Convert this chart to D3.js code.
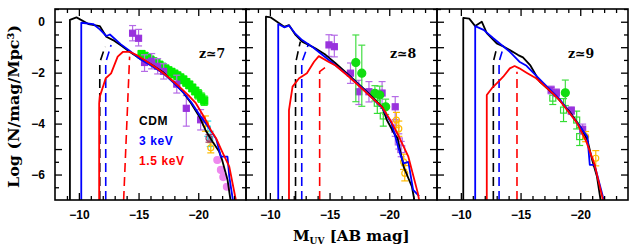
<!DOCTYPE html>
<html>
<head>
<meta charset="utf-8">
<script src="https://cdn.jsdelivr.net/npm/d3@7"></script>
<style>
  body { margin: 0; background: #fff; }
</style>
</head>
<body>
<div id="chart"></div>
<script>
// model curves: [M_UV, log phi]
var cdm7 = [[-9.25,-7],[-9.25,0.07],[-9.8,0.17],[-10.8,-0.09],[-11.75,-0.17],[-12.3,-0.59],[-12.86,-0.72],[-13.6,-0.95],[-14.25,-1.18],[-15.1,-1.44],[-15.9,-1.63],[-17.0,-1.96],[-17.9,-2.35],[-18.7,-2.75],[-19.4,-3.2],[-20.1,-3.73],[-20.6,-4.25],[-21.2,-4.71],[-21.75,-5.1],[-22.0,-5.43],[-22.45,-6.2],[-22.7,-7]];
var kev3_7 = [[-10.2,-7],[-10.2,-0.04],[-11.2,-0.09],[-11.75,-0.3],[-12.3,-0.56],[-12.6,-0.5],[-13.5,-0.88],[-14.3,-1.16],[-15.1,-1.46],[-15.9,-1.68],[-17.0,-2.0],[-17.9,-2.38],[-18.7,-2.75],[-19.4,-3.15],[-20.1,-3.65],[-20.8,-4.1],[-21.5,-4.6],[-21.9,-5.3],[-22.45,-5.3],[-22.6,-6.08],[-22.9,-7]];
var kev15_7 = [[-11.7,-7],[-11.7,-3.2],[-11.75,-2.94],[-12.25,-2.22],[-12.7,-2.03],[-13.25,-1.37],[-13.7,-1.18],[-14.25,-1.18],[-14.8,-1.3],[-15.5,-1.5],[-16.5,-1.82],[-17.3,-2.1],[-18.3,-2.5],[-19.2,-2.9],[-19.8,-3.2],[-20.5,-3.75],[-21.05,-4.25],[-21.5,-4.58],[-22.0,-5.1],[-22.6,-5.69],[-23.15,-7]];
var dashCdm7 = [[-11.75,-7],[-11.75,-1.6],[-12.2,-0.98]];
var dashKev3_7 = [[-12.25,-7],[-12.25,-1.6],[-12.7,-0.91]];
var dashKev15_7 = [[-13.75,-7],[-14.25,-1.37]];

var cdm8 = [[-9.67,-7],[-9.67,0.2],[-10.08,0.17],[-10.78,-0.06],[-11.2,-0.2],[-11.6,-0.13],[-12.15,-0.52],[-12.7,-0.78],[-13.25,-0.91],[-13.8,-1.04],[-14.67,-1.3],[-15.5,-1.63],[-16.6,-2.09],[-17.97,-2.68],[-19.4,-3.34],[-19.8,-3.86],[-20.4,-4.38],[-20.7,-4.58],[-21.2,-5.69],[-21.9,-6.48],[-22.1,-7]];
var kev3_8 = [[-10.7,-7],[-10.7,-0.09],[-11.2,-0.22],[-11.6,-0.15],[-12.15,-0.48],[-12.7,-0.72],[-13.6,-1.0],[-15.2,-1.6],[-16.6,-2.12],[-18.0,-2.72],[-19.4,-3.38],[-20.2,-4.0],[-20.9,-5.17],[-21.2,-5.56],[-21.6,-5.5],[-22.0,-6.6],[-22.5,-6.85]];
var kev15_8 = [[-11.6,-7],[-11.6,-3.47],[-11.9,-2.55],[-12.45,-2.22],[-13.1,-2.02],[-13.7,-1.57],[-14.1,-1.35],[-14.9,-1.57],[-15.5,-1.72],[-16.6,-2.15],[-18.0,-2.75],[-19.4,-3.35],[-20.2,-3.95],[-20.8,-4.5],[-21.6,-5.3],[-22.4,-6.74],[-22.5,-7]];
var dashCdm8 = [[-12.15,-7],[-12.15,-1.63],[-12.55,-0.78]];
var dashKev3_8 = [[-12.67,-7],[-12.67,-1.6],[-13.25,-0.85]];
var dashKev15_8 = [[-14.17,-7],[-14.17,-1.96],[-14.8,-1.74]];

var cdm9 = [[-10.2,-7],[-10.2,0.15],[-10.7,0.12],[-11.2,-0.17],[-11.75,0.0],[-12.17,-0.45],[-13.0,-0.85],[-13.6,-0.98],[-14.1,-1.11],[-14.8,-1.31],[-15.2,-1.4],[-15.8,-1.7],[-16.6,-2.35],[-18.0,-2.94],[-19.1,-3.53],[-20.0,-4.12],[-20.6,-4.64],[-21.0,-5.43],[-21.4,-6.08],[-21.7,-7]];
var kev3_9 = [[-11.2,-7],[-11.2,-0.17],[-11.9,-0.32],[-12.72,-0.65],[-14.1,-1.18],[-14.9,-1.57],[-15.5,-1.73],[-16.9,-2.4],[-18.3,-3.05],[-19.7,-3.95],[-20.6,-4.51],[-20.8,-5.62],[-21.2,-5.62],[-21.9,-6.87],[-22.0,-7]];
var kev15_9 = [[-12.17,-7],[-12.17,-2.88],[-12.6,-2.61],[-13.15,-2.35],[-13.55,-2.16],[-14.1,-1.83],[-14.5,-1.74],[-14.9,-1.83],[-15.5,-2.0],[-16.3,-2.22],[-17.7,-2.81],[-18.3,-3.1],[-19.7,-3.95],[-20.5,-4.7],[-21.2,-5.6],[-21.9,-7]];
var dashCdm9 = [[-12.72,-7],[-12.72,-1.57],[-13.0,-1.04]];
var dashKev3_9 = [[-13.2,-7],[-13.2,-1.57],[-13.5,-1.1]];
var dashKev15_9 = [[-14.7,-7],[-14.7,-1.96]];

// observations: [M_UV, log phi, err low, err high]
var greenSq7 = [[-15.25,-1.28,0.15,0.15],[-15.5,-1.35,0.15,0.15],[-15.75,-1.42,0.15,0.15],[-16.0,-1.5,0.15,0.15],[-16.25,-1.57,0.15,0.15],[-16.5,-1.63,0.15,0.15],[-16.75,-1.7,0.15,0.15],[-17.0,-1.78,0.15,0.15],[-17.25,-1.85,0.15,0.15],[-17.5,-1.92,0.15,0.15],[-17.75,-1.98,0.15,0.15],[-18.0,-2.05,0.15,0.15],[-18.25,-2.12,0.15,0.15],[-18.5,-2.2,0.15,0.15],[-18.75,-2.28,0.15,0.15],[-19.0,-2.38,0.15,0.15],[-19.25,-2.48,0.15,0.15],[-19.5,-2.6,0.15,0.15],[-19.75,-2.72,0.15,0.15],[-20.0,-2.85,0.18,0.18],[-20.25,-2.98,0.18,0.18],[-20.5,-3.1,0.18,0.18]];
var purpleSq7 = [[-14.5,-0.45,0.3,0.3],[-15.0,-0.65,0.3,0.35],[-15.5,-1.6,0.35,0.3],[-16.1,-1.55,0.3,0.3],[-16.6,-1.75,0.3,0.3],[-17.1,-1.95,0.3,0.3],[-18.2,-2.45,0.35,0.35],[-19.0,-3.4,0.7,0.5],[-20.2,-3.85,0.4,0.4]];
var yellow7 = [[-20.6,-4.0,0.3,0.3],[-21.05,-4.95,0.2,0.2]];
var cyan7 = [[-20.8,-4.2,0.3,0.3],[-21.0,-4.6,0.3,0.3]];
var maroon7 = [[-20.9,-4.58,0.15,0.15]];
var pink7 = [[-21.6,-5.43,0,0],[-21.9,-5.82,0,0],[-22.1,-6.1,0,0],[-22.4,-6.48,0,0]];

var purpleSq8 = [[-14.95,-0.91,0.45,0.4],[-15.4,-0.98,0.4,0.45],[-16.75,-2.02,0.4,0.4],[-17.45,-2.75,0.5,0.45],[-18.3,-2.75,0.4,0.4],[-19.4,-2.8,0.5,0.45],[-20.5,-3.34,0.5,0.4]];
var greenCirc8 = [[-17.2,-1.6,1.54,1.08],[-17.7,-2.02,1.3,1.1],[-18.8,-2.81,0.3,0.3],[-19.2,-2.88,0.35,0.35],[-19.7,-3.34,0.3,0.3]];
var greenOpen8 = [[-19.0,-3.2,0.4,0.4],[-19.5,-3.7,0.4,0.3]];
var purpleOpen8 = [[-20.5,-4.2,0.3,0.3],[-20.8,-4.7,0.3,0.3],[-21.0,-5.0,0.3,0.3]];
var yellow8 = [[-20.6,-3.86,0.3,0.3],[-20.8,-4.2,0.3,0.3],[-21.2,-5.5,0.3,0.3],[-21.3,-5.95,0.3,0.3]];

var purpleSq9 = [[-17.56,-2.68,0.15,0.15],[-18.0,-2.79,0.15,0.15],[-19.25,-3.49,0.15,0.15],[-20.2,-4.22,0.2,0.2]];
var greenCirc9 = [[-18.75,-2.79,0.5,0.5]];
var greenOpen9 = [[-17.7,-3.0,0.25,0.25],[-18.6,-3.47,0.45,0.45],[-19.7,-3.86,0.35,0.35],[-19.95,-4.51,0.35,0.35]];
var yellow9 = [[-20.45,-4.51,0.2,0.2],[-21.3,-5.36,0.3,0.3]];

var xMajor = [-10, -15, -20];
var yLabels = [0, -2, -4, -6];
var redshifts = ["z≃7", "z≃8", "z≃9"];
var legendNames = ["CDM", "3 keV", "1.5 keV"];
var modelColors = ["#000000", "#0000ff", "#ff0000"];

var panels = [
    { z: redshifts[0], zx: 144, lines: [cdm7, kev3_7, kev15_7], dashes: [dashCdm7, dashKev3_7, dashKev15_7],
      obs: [[greenSq7, "greenSq"], [purpleSq7, "purpleSq"], [cyan7, "cyan"], [yellow7, "yellow"], [maroon7, "maroon"], [pink7, "pink"]] },
    { z: redshifts[1], zx: 144, lines: [cdm8, kev3_8, kev15_8], dashes: [dashCdm8, dashKev3_8, dashKev15_8],
      obs: [[purpleSq8, "purpleSq"], [greenOpen8, "greenOpen"], [purpleOpen8, "purpleOpen"], [yellow8, "yellow"], [greenCirc8, "greenCirc"]] },
    { z: redshifts[2], zx: 131, lines: [cdm9, kev3_9, kev15_9], dashes: [dashCdm9, dashKev3_9, dashKev15_9],
      obs: [[greenOpen9, "greenOpen"], [purpleSq9, "purpleSq"], [yellow9, "yellow"], [greenCirc9, "greenCirc"]] }
];

// how each kind of point is drawn
var styles = {
    greenSq:    { shape: "square", fill: "#00ee00", stroke: "#00ee00", bar: "#00ee00", size: 7, xerr: 0.3 },
    purpleSq:   { shape: "square", fill: "#9933dd", stroke: "#9933dd", bar: "#b56be6", size: 6 },
    cyan:       { shape: "square", fill: "none", stroke: "#22e0ee", bar: "#22e0ee", size: 5 },
    yellow:     { shape: "circle", fill: "none", stroke: "#ffbb00", bar: "#ffbb00", size: 6 },
    maroon:     { shape: "circle", fill: "none", stroke: "#a0406a", bar: "#a0406a", size: 6 },
    pink:       { shape: "circle", fill: "#ee88ee", stroke: "#ee88ee", bar: "#ee88ee", size: 7 },
    greenCirc:  { shape: "circle", fill: "#11dd11", stroke: "#11dd11", bar: "#44dd44", size: 8 },
    greenOpen:  { shape: "square", fill: "none", stroke: "#33dd33", bar: "#33dd33", size: 6 },
    purpleOpen: { shape: "square", fill: "none", stroke: "#b56be6", bar: "#b56be6", size: 7 }
};

var margin = { top: 9, left: 55 },
    width = 191,
    height = 191;

var svg = d3.select("#chart")
    .append("svg")
    .attr("width", 637)
    .attr("height", 249);

var x = d3.scaleLinear().domain([-8, -24]).range([0, width]);
var y = d3.scaleLinear().domain([-7, 0.5]).range([height, 0]);

var line = d3.line()
    .x(function(d) { return x(d[0]); })
    .y(function(d) { return y(d[1]); });

var xMinor = d3.range(-9, -24, -1).filter(function(v) { return v % 5 !== 0; });
var yMajor = d3.range(0, -7, -1);
var yMinor = d3.range(0.5, -7, -1);

var tickFont = "Liberation Sans, Arial, sans-serif";

panels.forEach(function(p, i) {
    var g = svg.append("g")
        .attr("transform", "translate(" + (margin.left + i * width) + "," + margin.top + ")");

    g.append("clipPath").attr("id", "clip" + i)
        .append("rect").attr("width", width).attr("height", height);

    var plot = g.append("g").attr("clip-path", "url(#clip" + i + ")");

    // observed points with error bars
    p.obs.forEach(function(o) {
        var st = styles[o[1]];
        o[0].forEach(function(d) {
            var cx = x(d[0]), cy = y(d[1]);
            if (d[2] > 0 || d[3] > 0) {
                var y0 = y(d[1] - d[2]), y1 = y(d[1] + d[3]);
                plot.append("line").attr("x1", cx).attr("x2", cx).attr("y1", y0).attr("y2", y1)
                    .attr("stroke", st.bar).attr("stroke-width", 1.2);
                [y0, y1].forEach(function(yy) {
                    plot.append("line").attr("x1", cx - 3.5).attr("x2", cx + 3.5).attr("y1", yy).attr("y2", yy)
                        .attr("stroke", st.bar).attr("stroke-width", 1.2);
                });
            }
            if (st.xerr) {
                plot.append("line").attr("x1", x(d[0] + st.xerr)).attr("x2", x(d[0] - st.xerr))
                    .attr("y1", cy).attr("y2", cy).attr("stroke", st.bar).attr("stroke-width", 1.2);
            }
            if (st.shape === "square") {
                plot.append("rect")
                    .attr("x", cx - st.size / 2).attr("y", cy - st.size / 2)
                    .attr("width", st.size).attr("height", st.size)
                    .attr("fill", st.fill).attr("stroke", st.stroke).attr("stroke-width", 1.2);
            } else {
                plot.append("circle").attr("cx", cx).attr("cy", cy).attr("r", st.size / 2)
                    .attr("fill", st.fill).attr("stroke", st.stroke).attr("stroke-width", 1.2);
            }
        });
    });

    // model curves
    p.dashes.forEach(function(d, j) {
        plot.append("path").datum(d).attr("d", line)
            .attr("fill", "none").attr("stroke", modelColors[j])
            .attr("stroke-width", 1.6).attr("stroke-dasharray", "9,5");
    });
    p.lines.forEach(function(d, j) {
        plot.append("path").datum(d).attr("d", line)
            .attr("fill", "none").attr("stroke", modelColors[j])
            .attr("stroke-width", 1.8).attr("stroke-linejoin", "round");
    });

    // ticks (pointing inward, on all four sides)
    function strip(sel) { sel.select(".domain").remove(); }

    g.append("g").attr("transform", "translate(0," + height + ")")
        .call(d3.axisBottom(x).tickValues(xMajor).tickSize(-7).tickPadding(10))
        .call(strip)
        .attr("font-family", tickFont).attr("font-size", 12).attr("font-weight", "bold");
    g.append("g").attr("transform", "translate(0," + height + ")")
        .call(d3.axisBottom(x).tickValues(xMinor).tickSize(-4).tickFormat(""))
        .call(strip);
    g.append("g")
        .call(d3.axisTop(x).tickValues(xMajor).tickSize(-7).tickFormat(""))
        .call(strip);
    g.append("g")
        .call(d3.axisTop(x).tickValues(xMinor).tickSize(-4).tickFormat(""))
        .call(strip);

    var leftAxis = d3.axisLeft(y).tickValues(yMajor).tickSize(-7).tickPadding(10)
        .tickFormat(function(v) { return (i === 0 && yLabels.indexOf(v) >= 0) ? d3.format("d")(v) : ""; });
    g.append("g").call(leftAxis).call(strip)
        .attr("font-family", tickFont).attr("font-size", 12).attr("font-weight", "bold");
    g.append("g").call(d3.axisLeft(y).tickValues(yMinor).tickSize(-4).tickFormat("")).call(strip);
    g.append("g").attr("transform", "translate(" + width + ",0)")
        .call(d3.axisRight(y).tickValues(yMajor).tickSize(-7).tickFormat("")).call(strip);
    g.append("g").attr("transform", "translate(" + width + ",0)")
        .call(d3.axisRight(y).tickValues(yMinor).tickSize(-4).tickFormat("")).call(strip);

    g.selectAll(".tick line").attr("stroke-width", 1.3);

    g.append("rect").attr("width", width).attr("height", height)
        .attr("fill", "none").attr("stroke", "#000").attr("stroke-width", 1.6);

    // redshift label
    g.append("text").attr("x", p.zx).attr("y", 49)
        .attr("font-family", "DejaVu Serif, serif").attr("font-size", 12.5).attr("font-weight", "bold")
        .text(p.z);

    // legend in first panel
    if (i === 0) {
        legendNames.forEach(function(name, j) {
            g.append("text").attr("x", 84).attr("y", 116 + j * 20)
                .attr("font-family", tickFont).attr("font-size", 12).attr("font-weight", "bold")
                .attr("letter-spacing", 0.6)
                .attr("fill", modelColors[j]).text(name);
        });
    }
});

// axis titles
svg.append("text")
    .attr("transform", "translate(19,106.5) rotate(-90)")
    .attr("text-anchor", "middle")
    .attr("font-family", "DejaVu Serif, serif").attr("font-size", 15).attr("font-weight", "bold")
    .attr("textLength", 163).attr("lengthAdjust", "spacingAndGlyphs")
    .text("Log (N/mag/Mpc³)");

var xt = svg.append("text")
    .attr("x", 293).attr("y", 241)
    .attr("font-family", "DejaVu Serif, serif").attr("font-size", 15).attr("font-weight", "bold");
xt.append("tspan").text("M");
xt.append("tspan").attr("font-size", 9).attr("dy", 3).text("UV");
xt.append("tspan").attr("dy", -3).text(" [AB mag]");
</script>
</body>
</html>
